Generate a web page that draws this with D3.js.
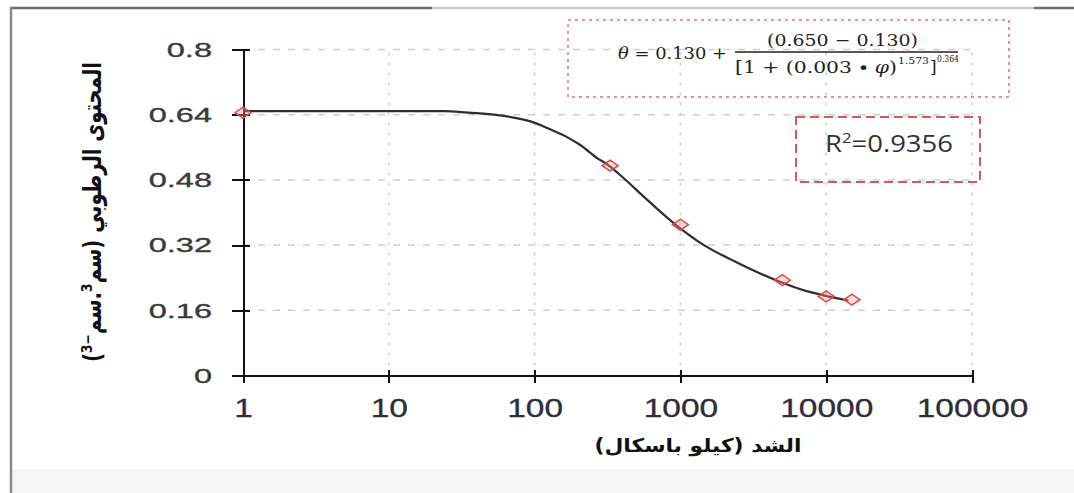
<!DOCTYPE html>
<html>
<head>
<meta charset="utf-8">
<script src="https://cdn.jsdelivr.net/npm/d3@7"></script>
<style>
  body { margin: 0; background: #fff; }
  svg { display: block; }
</style>
</head>
<body>
<div id="chart"></div>
<script>
// measured points (suction kPa, moisture content)
const suctionKPa = [1, 330, 1000, 5000, 10000, 15000];
const moistureContent = [0.645, 0.515, 0.37, 0.234, 0.194, 0.186];

// fitted curve
const fitSuction = [1, 10, 24, 35, 56, 95, 123, 161, 207, 270, 318, 409, 560, 920, 1450, 2330, 4580, 7330, 9300, 14200];
const fitMoisture = [0.649, 0.649, 0.649, 0.645, 0.639, 0.623, 0.607, 0.588, 0.565, 0.533, 0.517, 0.484, 0.439, 0.371, 0.320, 0.281, 0.233, 0.207, 0.198, 0.184];

const xTicks = [1, 10, 100, 1000, 10000, 100000];
const yTicks = [0, 0.16, 0.32, 0.48, 0.64, 0.8];

const yTitle = 'المحتوى الرطوبي (سم³.سم⁻³)';
const xTitle = 'الشد (كيلو باسكال)';

const W = 1074, H = 493;

const svg = d3.select('#chart')
  .append('svg')
  .attr('width', W)
  .attr('height', H);

// frame of the pasted picture
svg.append('rect').attr('x', 12).attr('y', 469).attr('width', W - 12).attr('height', H - 469).attr('fill', '#f6f6f6');
svg.append('line').attr('x1', 10).attr('x2', 432).attr('y1', 8).attr('y2', 8).attr('stroke', '#6e6e6e').attr('stroke-width', 2.5);
svg.append('line').attr('x1', 432).attr('x2', 1034).attr('y1', 8).attr('y2', 8).attr('stroke', '#c9c9c9').attr('stroke-width', 2.5);
svg.append('line').attr('x1', 1034).attr('x2', W).attr('y1', 8).attr('y2', 8).attr('stroke', '#6e6e6e').attr('stroke-width', 2.5);
svg.append('line').attr('x1', 11).attr('x2', 11).attr('y1', 7).attr('y2', H).attr('stroke', '#8a8a8a').attr('stroke-width', 2.5);

// scales
const x = d3.scaleLog()
  .domain([1, 100000])
  .range([243, 972]);

const y = d3.scaleLinear()
  .domain([0, 0.8])
  .range([375.5, 49.5]);

// grid lines
svg.append('g')
  .selectAll('line')
  .data(yTicks.filter(d => d > 0))
  .enter()
  .append('line')
  .attr('x1', x(1)).attr('x2', x(100000))
  .attr('y1', d => y(d)).attr('y2', d => y(d))
  .attr('stroke', '#cfcfcf')
  .attr('stroke-width', 1.5)
  .attr('stroke-dasharray', '7,8');

svg.append('g')
  .selectAll('line')
  .data(xTicks.filter(d => d > 1))
  .enter()
  .append('line')
  .attr('x1', d => x(d)).attr('x2', d => x(d))
  .attr('y1', y(0)).attr('y2', y(0.8))
  .attr('stroke', '#cfcfcf')
  .attr('stroke-width', 1.5)
  .attr('stroke-dasharray', '3,7');

// y axis
const yAxis = svg.append('g')
  .attr('transform', `translate(${x(1)},0)`)
  .call(d3.axisLeft(y).tickValues(yTicks).tickFormat(d => d).tickSizeOuter(0));
yAxis.select('.domain').attr('stroke', '#111').attr('stroke-width', 2);
yAxis.selectAll('line').attr('x1', 7).attr('x2', -11).attr('stroke', '#111').attr('stroke-width', 2);
yAxis.selectAll('text')
  .attr('x', 0)
  .attr('dy', '0.32em')
  .attr('transform', 'translate(-31,0) scale(1.55,1)')
  .attr('font-family', '"Liberation Sans", Arial, sans-serif')
  .attr('font-size', 21)
  .attr('fill', '#3a3a3a')
  .attr('stroke', '#3a3a3a')
  .attr('stroke-width', 0.35);

// x axis
const xAxis = svg.append('g')
  .attr('transform', `translate(0,${y(0)})`)
  .call(d3.axisBottom(x).tickValues(xTicks).tickFormat(d3.format('d')).tickSizeOuter(0));
xAxis.select('.domain').attr('stroke', '#111').attr('stroke-width', 2);
xAxis.selectAll('line').attr('y1', -6).attr('y2', 7).attr('stroke', '#111').attr('stroke-width', 2);
xAxis.selectAll('text')
  .attr('y', 0)
  .attr('dy', 0)
  .attr('transform', 'translate(0,41) scale(1.34,1)')
  .attr('font-family', '"Liberation Sans", Arial, sans-serif')
  .attr('font-size', 25)
  .attr('fill', '#2e2e3a')
  .attr('stroke', '#2e2e3a')
  .attr('stroke-width', 0.3);
svg.selectAll('.domain, .tick line').attr('shape-rendering', 'crispEdges');

// fitted curve
const fitData = fitSuction.map((s, i) => ({ s, m: fitMoisture[i] }));
svg.append('path')
  .datum(fitData)
  .attr('fill', 'none')
  .attr('stroke', '#2e2e2e')
  .attr('stroke-width', 2.2)
  .attr('d', d3.line().x(d => x(d.s)).y(d => y(d.m)).curve(d3.curveMonotoneX));

// measured points
const pts = suctionKPa.map((s, i) => ({ s, m: moistureContent[i] }));
svg.selectAll('.pt')
  .data(pts)
  .enter()
  .append('path')
  .attr('class', 'pt')
  .attr('transform', d => `translate(${x(d.s)},${y(d.m)})`)
  .attr('d', 'M0,-5.5L8,0L0,5.5L-8,0Z')
  .attr('fill', 'rgba(255,150,150,0.35)')
  .attr('stroke', '#e04848')
  .attr('stroke-width', 1.5);

// axis titles
svg.append('text')
  .attr('transform', 'translate(101,212) rotate(-90) scale(1,1.35)')
  .attr('text-anchor', 'middle')
  .attr('direction', 'rtl')
  .attr('font-family', '"DejaVu Sans", sans-serif')
  .attr('font-weight', 'bold')
  .attr('font-size', 19)
  .attr('textLength', 300)
  .attr('lengthAdjust', 'spacingAndGlyphs')
  .attr('fill', '#111')
  .text(yTitle);

svg.append('text')
  .attr('x', 698)
  .attr('y', 452)
  .attr('text-anchor', 'middle')
  .attr('direction', 'rtl')
  .attr('font-family', '"DejaVu Sans", sans-serif')
  .attr('font-weight', 'bold')
  .attr('font-size', 19)
  .attr('textLength', 207)
  .attr('lengthAdjust', 'spacingAndGlyphs')
  .attr('fill', '#111')
  .text(xTitle);

// equation box
svg.append('rect')
  .attr('x', 568).attr('y', 20).attr('width', 441).attr('height', 77)
  .attr('fill', 'none')
  .attr('stroke', '#e8909c')
  .attr('stroke-width', 2)
  .attr('stroke-dasharray', '3,4');

const eq = svg.append('g')
  .attr('font-family', '"DejaVu Serif", "Liberation Serif", serif')
  .attr('fill', '#222');
eq.append('text').attr('x', 618).attr('y', 59).attr('font-size', 17)
  .attr('textLength', 109).attr('lengthAdjust', 'spacingAndGlyphs')
  .html('<tspan font-style="italic">θ</tspan> = 0.130 +');
eq.append('text').attr('x', 767).attr('y', 46).attr('font-size', 17)
  .attr('textLength', 151).attr('lengthAdjust', 'spacingAndGlyphs')
  .text('(0.650 − 0.130)');
eq.append('line').attr('x1', 735).attr('x2', 958).attr('y1', 52).attr('y2', 52)
  .attr('stroke', '#222').attr('stroke-width', 1.4);
eq.append('text').attr('x', 735).attr('y', 73).attr('font-size', 17)
  .attr('textLength', 162).attr('lengthAdjust', 'spacingAndGlyphs')
  .html('[1 + (0.003 ∙ <tspan font-style="italic">φ</tspan>)');
eq.append('text').attr('x', 898).attr('y', 64).attr('font-size', 10)
  .attr('textLength', 31).attr('lengthAdjust', 'spacingAndGlyphs')
  .text('1.573');
eq.append('text').attr('x', 930).attr('y', 73).attr('font-size', 17)
  .text(']');
eq.append('text').attr('x', 937).attr('y', 62).attr('font-size', 10)
  .attr('textLength', 22).attr('lengthAdjust', 'spacingAndGlyphs')
  .text('0.364');

// R squared box
svg.append('rect')
  .attr('x', 796).attr('y', 117).attr('width', 184).attr('height', 65)
  .attr('fill', 'none')
  .attr('stroke', '#d05a5a')
  .attr('stroke-width', 2)
  .attr('stroke-dasharray', '9,5');

svg.append('text')
  .attr('x', 825)
  .attr('y', 152)
  .attr('font-family', '"Open Sans", "Liberation Sans", sans-serif')
  .attr('font-size', 23)
  .attr('textLength', 128)
  .attr('lengthAdjust', 'spacingAndGlyphs')
  .attr('fill', '#333')
  .html('R<tspan dy="-9" font-size="14">2</tspan><tspan dy="9">=0.9356</tspan>');
</script>
</body>
</html>
